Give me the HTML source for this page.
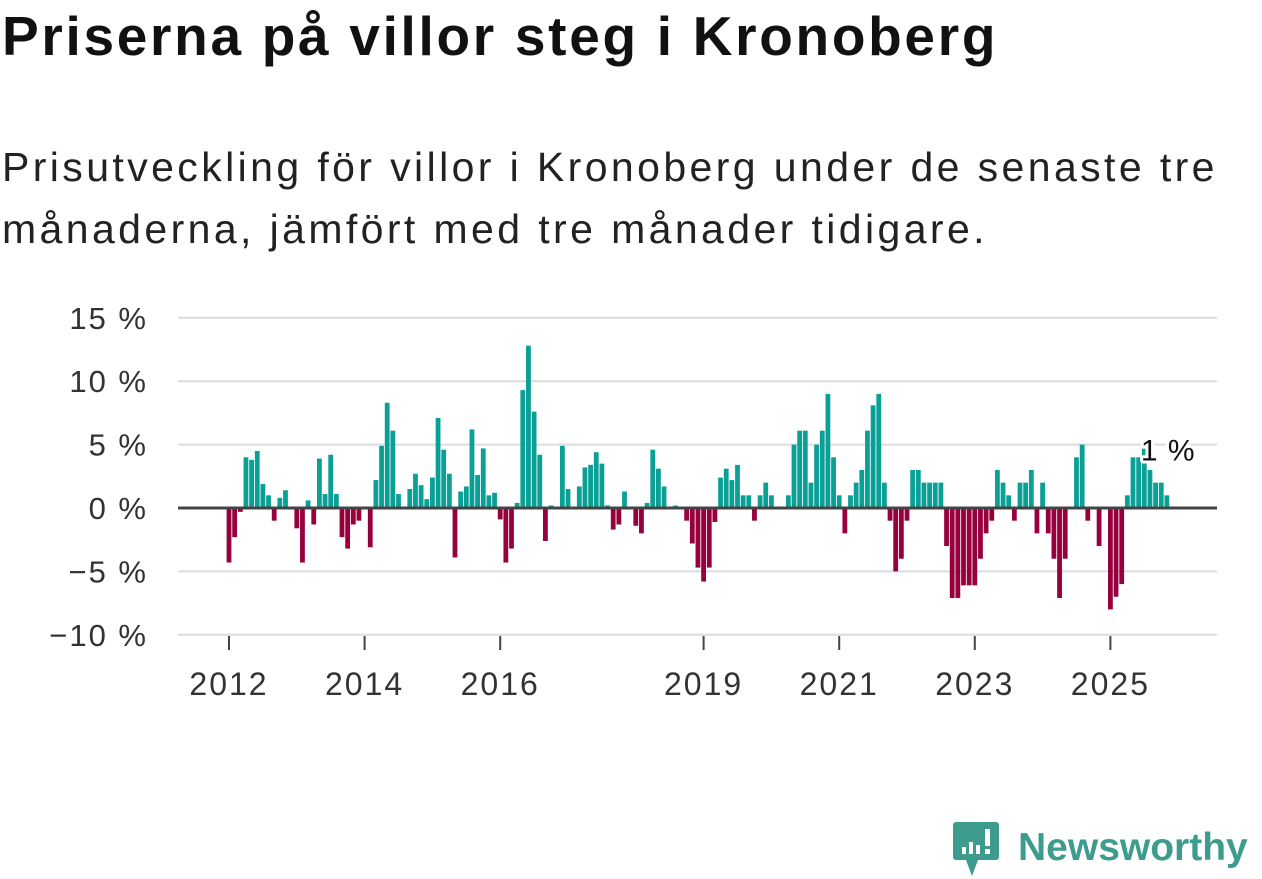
<!DOCTYPE html>
<html><head><meta charset="utf-8"><style>
body{margin:0;width:1262px;height:879px;background:#fff;overflow:hidden;font-family:"Liberation Sans",sans-serif;color:#111}
#title{position:absolute;left:2px;top:4px;font-size:55px;font-weight:bold;letter-spacing:2.7px;white-space:nowrap}
#sub{position:absolute;left:2px;top:136px;font-size:41px;line-height:62px;letter-spacing:3.4px;color:#222;white-space:nowrap}
svg{position:absolute;left:0;top:0}
</style></head><body>
<div id="title">Priserna på villor steg i Kronoberg</div>
<div id="sub">Prisutveckling för villor i Kronoberg under de senaste tre<br>månaderna, jämfört med tre månader tidigare.</div>
<svg id="chart" width="1262" height="879"></svg>
<script>
const values=[-4.3,-2.3,-0.3,4.0,3.8,4.5,1.9,1.0,-1.0,0.8,1.4,0,
-1.6,-4.3,0.6,-1.3,3.9,1.1,4.2,1.1,-2.3,-3.2,-1.3,-1.0,
0,-3.1,2.2,4.9,8.3,6.1,1.1,0,1.5,2.7,1.8,0.7,
2.4,7.1,4.6,2.7,-3.9,1.3,1.7,6.2,2.6,4.7,1.0,1.2,
-0.9,-4.3,-3.2,0.4,9.3,12.8,7.6,4.2,-2.6,0.2,0,4.9,
1.5,0,1.7,3.2,3.4,4.4,3.5,0.2,-1.7,-1.3,1.3,0,
-1.4,-2.0,0.4,4.6,3.1,1.7,0,0.2,0,-1.0,-2.8,-4.7,
-5.8,-4.7,-1.1,2.4,3.1,2.2,3.4,1.0,1.0,-1.0,1.0,2.0,
1.0,0,0,1.0,5.0,6.1,6.1,2.0,5.0,6.1,9.0,4.0,
1.0,-2.0,1.0,2.0,3.0,6.1,8.1,9.0,2.0,-1.0,-5.0,-4.0,
-1.0,3.0,3.0,2.0,2.0,2.0,2.0,-3.0,-7.1,-7.1,-6.1,-6.1,
-6.1,-4.0,-2.0,-1.0,3.0,2.0,1.0,-1.0,2.0,2.0,3.0,-2.0,
2.0,-2.0,-4.0,-7.1,-4.0,0,4.0,5.0,-1.0,0,-3.0,0,
-8.0,-7.0,-6.0,1.0,4.0,4.0,5.0,3.0,2.0,2.0,1.0];
const yTicks=[15,10,5,0,-5,-10];
const xYears=[2012,2014,2016,2019,2021,2023,2025];
const startYear=2012;
const lastLabel="1 %";
const NS="http://www.w3.org/2000/svg";
const svg=document.getElementById('chart');
function y(v){return 508-v*12.68;}
function x(i){return 229+i*5.65;}
function mk(t,a){const e=document.createElementNS(NS,t);for(const k in a)e.setAttribute(k,a[k]);svg.appendChild(e);return e;}
yTicks.forEach(t=>{
 const g=mk('line',{x1:178,x2:1217,y1:y(t),y2:y(t),stroke:'#dcdcdc','stroke-width':2});
 
 
 const l=mk('text',{x:148,y:y(t)+11,'text-anchor':'end','font-size':31,'letter-spacing':2,fill:'#333'});
 l.textContent=(t<0?'\u2212':'')+Math.abs(t)+' %';
 
 
});
values.forEach((v,i)=>{
 if(v===0)return;
 const r=mk('rect',{x:x(i)-2.4,width:4.8,y:Math.min(y(v),y(0)),height:Math.abs(y(v)-y(0)),fill:v>0?'#0aa096':'#96003c'});
 
 
});
const z=mk('line',{x1:178,x2:1217,y1:y(0),y2:y(0),stroke:'#444','stroke-width':3});


xYears.forEach(yr=>{
 const xi=x((yr-startYear)*12);
 const t=mk('line',{x1:xi,x2:xi,y1:636,y2:650,stroke:'#444','stroke-width':2});
 
 
 const l=mk('text',{x:xi,y:695,'text-anchor':'middle','font-size':32,'letter-spacing':2,fill:'#333'});
 l.textContent=yr;
 
 
});
const li=values.length-1;
const lab=mk('text',{x:x(li)-26,y:y(1)-35,'font-size':30,'letter-spacing':1,fill:'#111',stroke:'#fff','stroke-width':6,'paint-order':'stroke','stroke-linejoin':'round'});
lab.textContent=lastLabel;


</script>
<svg width="1262" height="879" style="position:absolute;left:0;top:0">
<path d="M956 822 h40 a3 3 0 0 1 3 3 v32 a3 3 0 0 1 -3 3 h-18 l-6 16 l-6 -16 h-10 a3 3 0 0 1 -3 -3 v-32 a3 3 0 0 1 3 -3z" fill="#3e9c8f"/>
<rect x="962" y="847" width="4" height="7" fill="#fff"/><rect x="969" y="842" width="4" height="12" fill="#fff"/><rect x="976" y="845" width="4" height="9" fill="#fff"/><rect x="985" y="829" width="5" height="17" fill="#fff"/><rect x="985" y="849" width="5" height="5" fill="#fff"/>
<text x="1018" y="860" font-size="39" font-weight="bold" fill="#3e9c8f" font-family="Liberation Sans, sans-serif">Newsworthy</text>
</svg>
</body></html>
